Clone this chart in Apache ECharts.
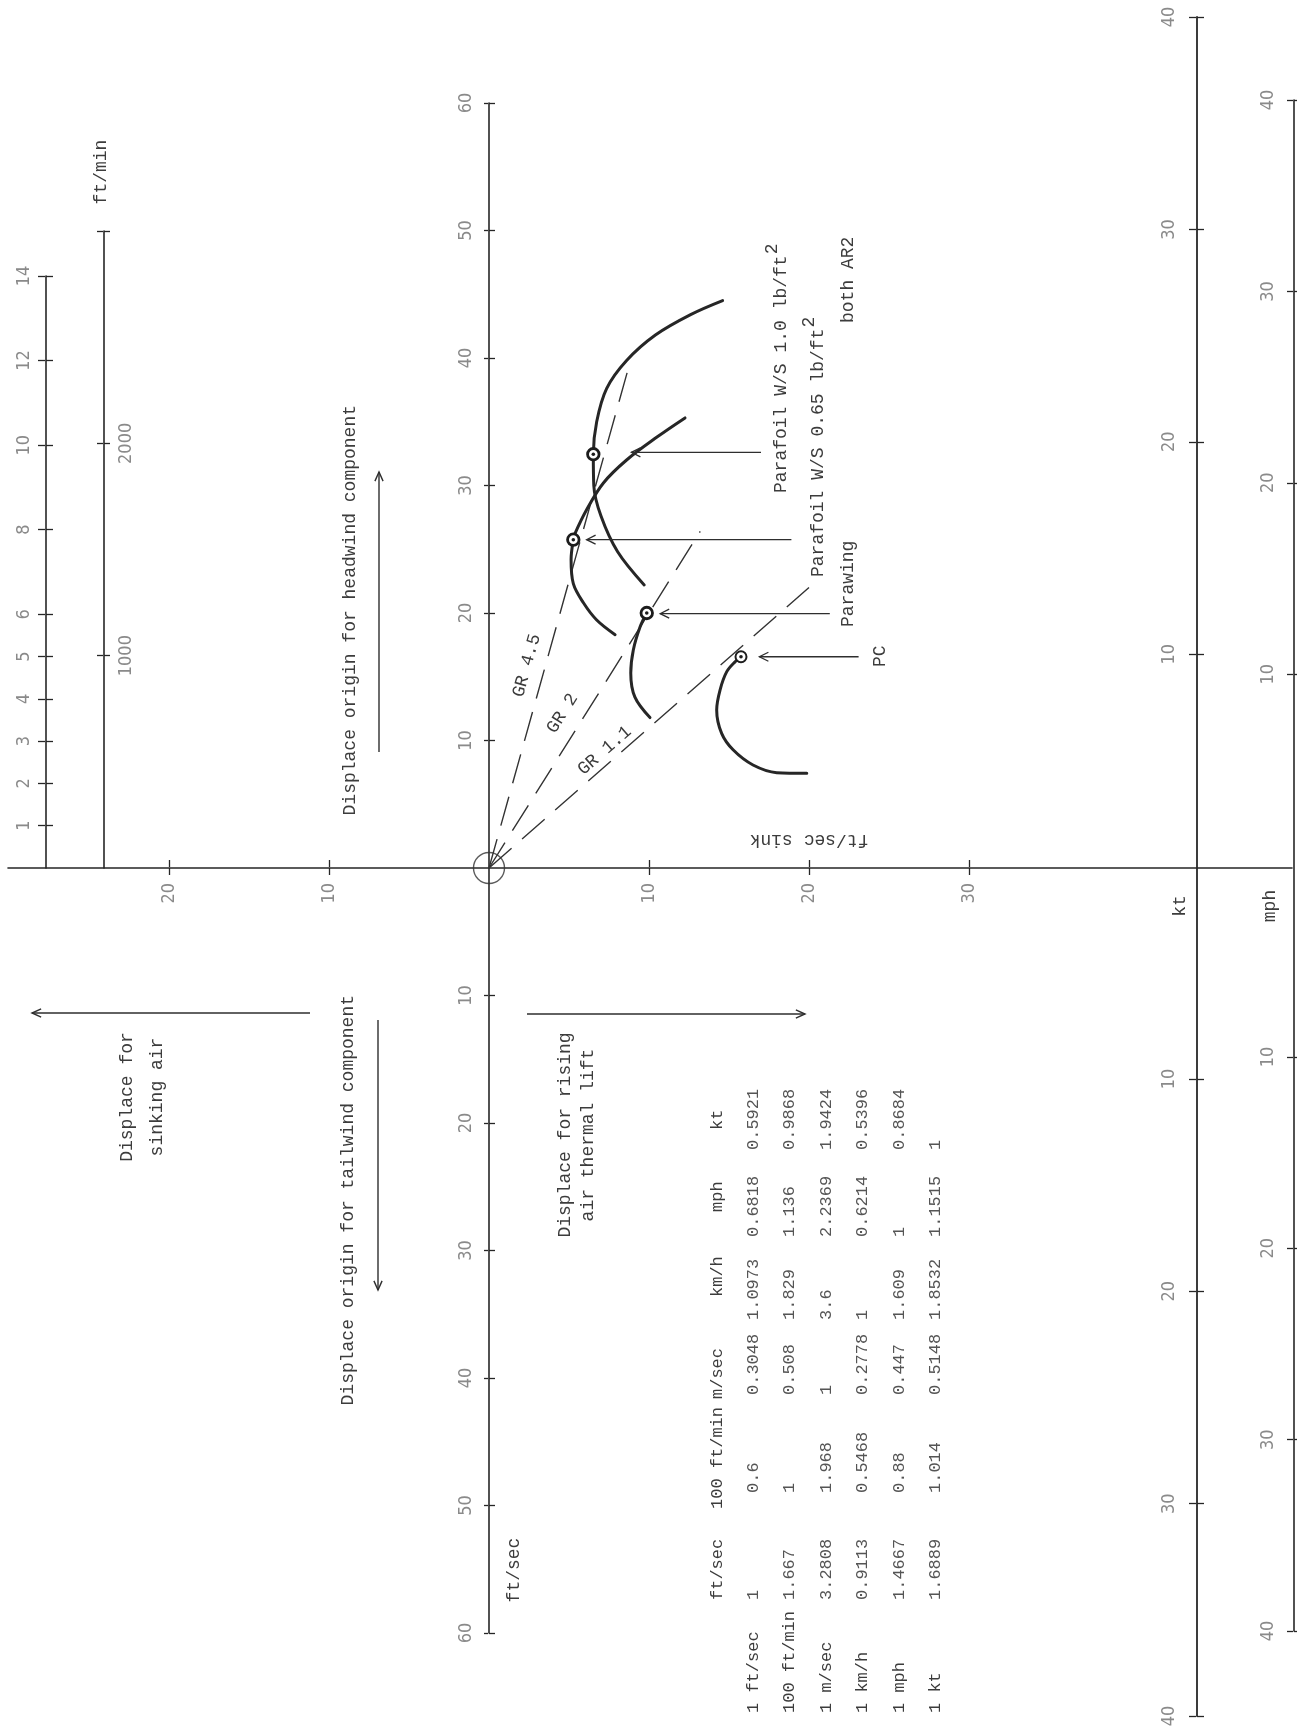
<!DOCTYPE html>
<html>
<head>
<meta charset="utf-8">
<script src="https://cdn.jsdelivr.net/npm/echarts@6/dist/echarts.min.js"></script>
<style>
  html, body { margin: 0; padding: 0; background: #fff; }
  #chart { width: 1297px; height: 1729px; }
</style>
</head>
<body>
<div id="chart"></div>
<script>
// ---- axis ticks -------------------------------------------------------
const sinkTicks = [-20, -10, 10, 20, 30];                       // ft/sec sink
const forwardTicks = [-60, -50, -40, -30, -20, -10, 10, 20, 30, 40, 50, 60]; // ft/sec
const msTicks = [1, 2, 3, 4, 5, 6, 8, 10, 12, 14];               // m/sec
const ftMinTicks = [1000, 2000, 3000];                           // ft/min
const ftMinLabels = [1000, 2000];
const ktTicks = [-40, -30, -20, -10, 10, 20, 30, 40];
const mphTicks = [-40, -30, -20, -10, 10, 20, 30, 40];

// ---- speed polars: [sink ft/sec, forward ft/sec] ---------------------
const parafoilWS10 = [[14.6, 44.5], [12.6, 43.4], [10.4, 41.8], [8.6, 39.8], [7.35, 37.6], [6.73, 35.0],
  [6.52, 32.45], [6.55, 30.0], [7.0, 27.6], [8.04, 24.8], [9.7, 22.2]];
const parafoilWS065 = [[12.25, 35.3], [10.5, 33.8], [8.6, 32.0], [7.15, 30.2], [6.1, 28.1], [5.38, 26.25],
  [5.27, 25.75], [5.13, 24.2], [5.27, 22.3], [5.9, 20.8], [6.73, 19.45], [7.88, 18.3]];
const parawingPolar = [[9.86, 20.0], [9.44, 18.9], [9.02, 17.1], [8.86, 15.3], [9.12, 13.4], [10.06, 11.8]];
const pcPolar = [[15.75, 16.57], [15.4, 16.2], [14.86, 15.4], [14.44, 13.96], [14.23, 12.4], [14.54, 10.56],
  [15.27, 9.25], [16.5, 8.08], [17.98, 7.48], [19.86, 7.43]];

// best glide points (circled)
const bestGlideWings = [[6.52, 32.45], [5.27, 25.75], [9.86, 20.0]];
const bestGlidePC = [[15.75, 16.57]];

// glide ratio rays from the origin
const glideRatios = [4.5, 2, 1.1];
const glideRayTop = [39.5, 26.4, 22.0];          // forward speed where each ray stops
const glideNames = ['GR 4.5', 'GR 2', 'GR 1.1'];

// pointer arrows: [sink at tail, forward speed, sink at tip]
const pointerArrows = [[17.0, 32.6, 8.9], [18.9, 25.75, 6.1], [21.3, 19.95, 10.7], [23.1, 16.57, 16.9]];

// ---- unit conversion table -------------------------------------------
const unitHeaders = ['ft/sec', '100 ft/min', 'm/sec', 'km/h', 'mph', 'kt'];
const unitRows = ['1 ft/sec', '100 ft/min', '1 m/sec', '1 km/h', '1 mph', '1 kt'];
const conversionTable = [
  ['1', '0.6', '0.3048', '1.0973', '0.6818', '0.5921'],
  ['1.667', '1', '0.508', '1.829', '1.136', '0.9868'],
  ['3.2808', '1.968', '1', '3.6', '2.2369', '1.9424'],
  ['0.9113', '0.5468', '0.2778', '1', '0.6214', '0.5396'],
  ['1.4667', '0.88', '0.447', '1.609', '1', '0.8684'],
  ['1.6889', '1.014', '0.5148', '1.8532', '1.1515', '1']
];

// ---- layout -----------------------------------------------------------
const INK = '#262626';
const TEXT_INK = '#3c3c3c';
const MONO = '"Liberation Mono", "DejaVu Sans Mono", monospace';
const TICK_FONT = {
  fontFamily: '"Liberation Sans Narrow", "DejaVu Sans Condensed", "Roboto", sans-serif',
  fontSize: 18, color: '#8a8a8a'
};
const ORIGIN_X = 489, ORIGIN_Y = 868;
const PX_PER_SINK = 16.0, PX_PER_FWD = 12.75;
const PLOT_LEFT = 8, PLOT_RIGHT_EDGE = 1292;
const SINK_MIN = -(ORIGIN_X - PLOT_LEFT) / PX_PER_SINK;
const SINK_MAX = (PLOT_RIGHT_EDGE - ORIGIN_X) / PX_PER_SINK;
const FWD_TOP = ORIGIN_Y - 60 * PX_PER_FWD;
const FWD_BOTTOM = ORIGIN_Y + 60 * PX_PER_FWD;

const absLabel = v => String(Math.abs(v));

const grids = [], xAxes = [], yAxes = [];
function addGrid(g) {
  grids.push(Object.assign({ containLabel: false, outerBoundsMode: 'none', show: false }, g));
  return grids.length - 1;
}

// plotting grid (hidden axes, same scales as the rulers)
const plotGrid = addGrid({ left: PLOT_LEFT, width: PLOT_RIGHT_EDGE - PLOT_LEFT, top: FWD_TOP, height: FWD_BOTTOM - FWD_TOP });
xAxes.push({ gridIndex: plotGrid, type: 'value', show: false, min: SINK_MIN, max: SINK_MAX });
yAxes.push({ gridIndex: plotGrid, type: 'value', show: false, min: -60, max: 60 });

function tickStyle(w) { return { color: INK, width: w || 1.3 }; }

// horizontal sink ruler
(function () {
  const gi = addGrid({ left: PLOT_LEFT, width: PLOT_RIGHT_EDGE - PLOT_LEFT, top: ORIGIN_Y - 1, height: 1 });
  yAxes.push({ gridIndex: gi, type: 'value', show: false, min: 0, max: 1 });
  xAxes.push({
    gridIndex: gi, type: 'value', position: 'bottom', min: SINK_MIN, max: SINK_MAX,
    axisLine: { show: true, onZero: false, lineStyle: { color: INK, width: 1.6 } },
    axisTick: { show: true, customValues: sinkTicks, length: 7, lineStyle: tickStyle() },
    axisLabel: Object.assign({ show: true, customValues: sinkTicks, rotate: 90, align: 'right',
      verticalAlign: 'middle', margin: 15, formatter: absLabel }, TICK_FONT),
    splitLine: { show: false }
  });
  xAxes.push({
    gridIndex: gi, type: 'value', position: 'top', min: SINK_MIN, max: SINK_MAX,
    axisLine: { show: false, onZero: false },
    axisTick: { show: true, customValues: sinkTicks, length: 7, lineStyle: tickStyle() },
    axisLabel: { show: false }, splitLine: { show: false }
  });
})();

// vertical rulers: forward speed and its unit scales
function verticalRuler(o) {
  const gi = addGrid({ left: o.x - 1, width: 1, top: o.top, height: o.height });
  xAxes.push({ gridIndex: gi, type: 'value', show: false, min: 0, max: 1 });
  const label = (side) => Object.assign({
    show: true, customValues: o.labels, rotate: 90, align: 'center',
    verticalAlign: side === 'left' ? 'bottom' : 'top', margin: o.margin, formatter: absLabel
  }, TICK_FONT);
  yAxes.push({
    gridIndex: gi, type: 'value', position: 'left', min: o.min, max: o.max,
    axisLine: { show: false, onZero: false },
    axisTick: { show: o.tickL > 0, customValues: o.ticks, length: o.tickL, lineStyle: tickStyle() },
    axisLabel: o.labelSide === 'left' ? label('left') : { show: false },
    splitLine: { show: false }
  });
  yAxes.push({
    gridIndex: gi, type: 'value', position: 'right', min: o.min, max: o.max,
    axisLine: { show: true, onZero: false, lineStyle: { color: INK, width: o.lineWidth || 1.6 } },
    axisTick: { show: o.tickR > 0, customValues: o.ticks, length: o.tickR, lineStyle: tickStyle() },
    axisLabel: o.labelSide === 'right' ? label('right') : { show: false },
    splitLine: { show: false }
  });
}

verticalRuler({ x: ORIGIN_X, top: FWD_TOP, height: FWD_BOTTOM - FWD_TOP, min: -60, max: 60,
  ticks: forwardTicks, labels: forwardTicks, labelSide: 'left', tickL: 4, tickR: 6, margin: 13 });
verticalRuler({ x: 46, top: 276, height: ORIGIN_Y - 276, min: 0, max: 14,
  ticks: msTicks, labels: msTicks, labelSide: 'left', tickL: 7, tickR: 7, margin: 12 });
verticalRuler({ x: 104, top: 231, height: ORIGIN_Y - 231, min: 0, max: 3000,
  ticks: ftMinTicks, labels: ftMinLabels, labelSide: 'right', tickL: 6, tickR: 6, margin: 13 });
verticalRuler({ x: 1197, top: 17, height: 1699, min: -40, max: 40,
  ticks: ktTicks, labels: ktTicks, labelSide: 'left', tickL: 7, tickR: 7, margin: 18, lineWidth: 1.8 });
verticalRuler({ x: 1294, top: 100, height: 1531, min: -40, max: 40,
  ticks: mphTicks, labels: mphTicks, labelSide: 'left', tickL: 6, tickR: 7, margin: 16 });

// ---- series -------------------------------------------------------------
function polarSeries(name, data) {
  return {
    name, type: 'line', xAxisIndex: 0, yAxisIndex: 0, data, smooth: 0.35,
    symbol: 'none', silent: true, clip: false, z: 4,
    lineStyle: { color: INK, width: 3, cap: 'round' }
  };
}

function glideRay(i) {
  const top = glideRayTop[i];
  return {
    name: glideNames[i], type: 'line', xAxisIndex: 0, yAxisIndex: 0,
    data: [[0, 0], [top / glideRatios[i], top]], symbol: 'none', silent: true, z: 3,
    lineStyle: { color: '#333', width: 1.4, type: [30, 14] }
  };
}

// where each GR caption sits: forward speed along the ray, and offset to its left (px)
const GR_LABEL_AT = [15.5, 11.3, 8.5];
const GR_LABEL_OFFSET = [18, 20, 12];

const series = [
  glideRay(0), glideRay(1), glideRay(2),
  polarSeries('Parafoil W/S 1.0', parafoilWS10),
  polarSeries('Parafoil W/S 0.65', parafoilWS065),
  polarSeries('Parawing', parawingPolar),
  polarSeries('PC', pcPolar),
  {
    type: 'scatter', xAxisIndex: 0, yAxisIndex: 0, data: [[0, 0]], symbolSize: 31, silent: true, z: 5,
    itemStyle: { color: 'rgba(0,0,0,0)', borderColor: '#333', borderWidth: 1.4 }
  },
  {
    type: 'scatter', xAxisIndex: 0, yAxisIndex: 0, data: bestGlideWings, symbolSize: 11.5, silent: true, z: 6,
    itemStyle: { color: '#fff', borderColor: '#1c1c1c', borderWidth: 2.8, opacity: 1 }
  },
  {
    type: 'scatter', xAxisIndex: 0, yAxisIndex: 0, data: bestGlidePC, symbolSize: 11, silent: true, z: 6,
    itemStyle: { color: '#fff', borderColor: '#1c1c1c', borderWidth: 2, opacity: 1 }
  },
  {
    type: 'scatter', xAxisIndex: 0, yAxisIndex: 0, data: bestGlideWings.concat(bestGlidePC),
    symbolSize: 3.6, silent: true, z: 7, itemStyle: { color: '#1c1c1c', opacity: 1 }
  },
  {
    type: 'custom', xAxisIndex: 0, yAxisIndex: 0, data: pointerArrows, silent: true, z: 6,
    renderItem: function (params, api) {
      const a = api.coord([api.value(0), api.value(1)]);
      const b = api.coord([api.value(2), api.value(1)]);
      const dir = b[0] < a[0] ? -1 : 1;
      const st = { stroke: '#2e2e2e', lineWidth: 1.3, fill: null };
      return {
        type: 'group', children: [
          { type: 'line', shape: { x1: a[0], y1: a[1], x2: b[0], y2: b[1] }, style: st },
          { type: 'polyline', shape: { points: [[b[0] - dir * 9, b[1] - 4.5], [b[0], b[1]], [b[0] - dir * 9, b[1] + 4.5]] }, style: st }
        ]
      };
    }
  },
  {
    type: 'custom', xAxisIndex: 0, yAxisIndex: 0, data: glideRatios.map((g, i) => [g, i]), silent: true, z: 6,
    renderItem: function (params, api) {
      const gr = api.value(0), i = api.value(1);
      const f = GR_LABEL_AT[i];
      const p0 = api.coord([0, 0]);
      const p = api.coord([f / gr, f]);
      const ang = Math.atan2(p0[1] - p[1], p[0] - p0[0]);
      const off = GR_LABEL_OFFSET[i];
      return {
        type: 'text', x: p[0] - off * Math.sin(ang), y: p[1] - off * Math.cos(ang), rotation: ang,
        style: { text: glideNames[i], align: 'center', verticalAlign: 'middle', fill: TEXT_INK,
          font: '18px ' + MONO }
      };
    }
  }
];

// ---- annotations ----------------------------------------------------
function vText(text, x, y, align, extra) {
  return Object.assign({
    type: 'text', x, y, rotation: Math.PI / 2, z: 20, silent: true,
    style: { text, align: align || 'center', verticalAlign: 'middle', fill: TEXT_INK, font: '18px ' + MONO }
  }, extra || {});
}
function supText(main, x, y) {
  return {
    type: 'text', x, y, rotation: Math.PI / 2, z: 20, silent: true,
    style: {
      text: '{t|' + main + '}{s|2}', align: 'left', verticalAlign: 'middle',
      rich: {
        t: { fontFamily: MONO, fontSize: 18, fill: TEXT_INK, color: TEXT_INK },
        s: { fontFamily: MONO, fontSize: 18, fill: TEXT_INK, color: TEXT_INK, padding: [0, 0, 18, 1] }
      }
    }
  };
}
function arrow(x1, y1, x2, y2) {
  const ang = Math.atan2(y2 - y1, x2 - x1), L = 10, A = 0.42;
  const st = { stroke: '#2e2e2e', lineWidth: 1.4, fill: null };
  return [
    { type: 'line', z: 15, silent: true, shape: { x1, y1, x2, y2 }, style: st },
    { type: 'polyline', z: 15, silent: true, shape: { points: [
      [x2 - L * Math.cos(ang - A), y2 - L * Math.sin(ang - A)], [x2, y2],
      [x2 - L * Math.cos(ang + A), y2 - L * Math.sin(ang + A)]] }, style: st }
  ];
}

const TABLE_X = 717, TABLE_Y = 1713, TABLE_ROW = 36.4;
const HEADER_OFFSETS = [113, 204, 314, 416, 501, 583];
const VALUE_OFFSETS = [113, 220, 318, 393, 476, 563];
const tableFont = '17px ' + MONO;
const tableChildren = [];
unitHeaders.forEach((h, j) => tableChildren.push({ type: 'text', x: HEADER_OFFSETS[j], y: 0,
  style: { text: h, align: 'left', verticalAlign: 'middle', fill: TEXT_INK, font: tableFont } }));
unitRows.forEach((r, i) => {
  const y = (i + 1) * TABLE_ROW;
  tableChildren.push({ type: 'text', x: 0, y,
    style: { text: r, align: 'left', verticalAlign: 'middle', fill: TEXT_INK, font: tableFont } });
  conversionTable[i].forEach((v, j) => tableChildren.push({ type: 'text', x: VALUE_OFFSETS[j], y,
    style: { text: v, align: 'left', verticalAlign: 'middle', fill: '#555', font: tableFont } }));
});

const graphics = [
  vText('Displace origin for headwind component', 350, 405, 'right'),
  vText('Displace origin for tailwind component', 348, 995, 'right'),
  vText('Displace for', 127, 1097),
  vText('sinking air', 157, 1097),
  vText('Displace for rising', 565, 1135),
  vText('air thermal lift', 588, 1135),
  supText('Parafoil W/S 1.0 lb/ft', 781, 493),
  supText('Parafoil W/S 0.65 lb/ft', 818, 577),
  vText('both AR2', 848, 323, 'left'),
  vText('Parawing', 848, 627, 'left'),
  vText('PC', 880, 667, 'left'),
  vText('ft/sec sink', 809, 840, 'center', { rotation: Math.PI }),
  vText('ft/sec', 514, 1570),
  vText('ft/min', 101, 172),
  vText('kt', 1180, 906),
  vText('mph', 1270, 906),
  { type: 'group', x: TABLE_X, y: TABLE_Y, rotation: Math.PI / 2, z: 20, silent: true, children: tableChildren }
].concat(
  arrow(379, 752, 379, 472),
  arrow(378, 1020, 378, 1290),
  arrow(310, 1013, 32, 1013),
  arrow(527, 1014, 805, 1014)
);

const chart = echarts.init(document.getElementById('chart'));
chart.setOption({
  animation: false,
  backgroundColor: '#ffffff',
  grid: grids,
  xAxis: xAxes,
  yAxis: yAxes,
  series,
  graphic: { elements: graphics }
});
</script>
</body>
</html>
